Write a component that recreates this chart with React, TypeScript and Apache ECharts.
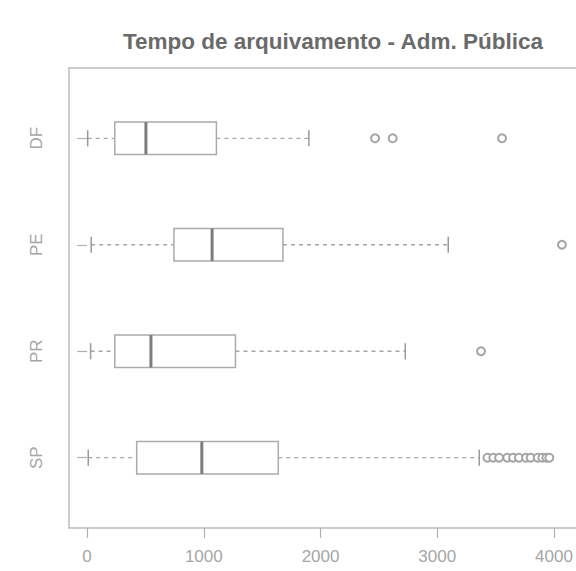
import React, { useEffect, useRef } from "react";
import * as echarts from "echarts";

// Filing time by state (public administration), box-and-whisker summary
const regions = ["SP", "PR", "PE", "DF"];
const regionPos = [1, 2, 3, 4];
const whiskerLow = [10, 30, 35, 5];
const lowerQuartile = [425, 237, 744, 237];
const medianValue = [983, 547, 1071, 504];
const upperQuartile = [1638, 1271, 1678, 1108];
const whiskerHigh = [3360, 2726, 3094, 1900];

const outliersSP = [3430, 3480, 3530, 3600, 3650, 3700, 3760, 3800, 3860, 3900, 3935, 3960];
const outliersPR = [3375];
const outliersPE = [4068];
const outliersDF = [2467, 2618, 3555];

const xTicks = [0, 1000, 2000, 3000, 4000];

const TITLE = "Tempo de arquivamento - Adm. Pública";
const FONT = "'Liberation Sans', Arial, sans-serif";

export default function App() {
  const ref = useRef<HTMLDivElement>(null);

  useEffect(() => {
    if (!ref.current) return;
    const chart = echarts.init(ref.current, undefined, { renderer: "svg" });

    const boxData = regions.map((_, i) => [
      regionPos[i],
      whiskerLow[i],
      lowerQuartile[i],
      medianValue[i],
      upperQuartile[i],
      whiskerHigh[i],
    ]);

    const outlierGroups = [outliersSP, outliersPR, outliersPE, outliersDF];
    const outlierData: number[][] = [];
    outlierGroups.forEach((vals, i) => {
      vals.forEach((v) => outlierData.push([v, regionPos[i]]));
    });

    const whiskerColor = "#a6a6a6";
    const boxColor = "#ababab";

    chart.setOption({
      animation: false,
      backgroundColor: "#ffffff",
      title: {
        text: TITLE,
        left: 328,
        top: 25,
        textAlign: "center",
        textStyle: {
          fontFamily: FONT,
          fontSize: 22.5,
          fontWeight: "bold",
          color: "#6a6a6a",
        },
      },
      grid: {
        left: 69,
        top: 68,
        bottom: 43,
        right: -6,
        show: true,
        borderColor: "#bcbcbc",
        borderWidth: 1.5,
        backgroundColor: "transparent",
        containLabel: false,
        outerBoundsMode: "none",
      },
      xAxis: {
        type: "value",
        min: -155,
        max: 4240,
        axisLine: { show: false },
        splitLine: { show: false },
        axisTick: {
          show: true,
          customValues: xTicks,
          length: 10,
          lineStyle: { color: "#b0b0b0", width: 1.2 },
        },
        axisLabel: {
          customValues: xTicks,
          margin: 20,
          fontFamily: FONT,
          fontSize: 17,
          color: "#a6a6a6",
          formatter: (v: number) => String(v),
        },
      },
      yAxis: {
        type: "value",
        min: 0.34,
        max: 4.66,
        axisLine: { show: false },
        splitLine: { show: false },
        axisTick: {
          show: true,
          customValues: regionPos,
          length: 10,
          lineStyle: { color: "#b0b0b0", width: 1.2 },
        },
        axisLabel: {
          customValues: regionPos,
          rotate: 90,
          margin: 24,
          fontFamily: FONT,
          fontSize: 17,
          color: "#a6a6a6",
          formatter: (v: number) => regions[regionPos.indexOf(Math.round(v))] ?? "",
        },
      },
      series: [
        {
          type: "custom",
          data: boxData,
          encode: { x: [1, 2, 3, 4, 5], y: 0 },
          renderItem: (_params: any, api: any) => {
            const y = api.value(0);
            const pLo = api.coord([api.value(1), y]);
            const pQ1 = api.coord([api.value(2), y]);
            const pMed = api.coord([api.value(3), y]);
            const pQ3 = api.coord([api.value(4), y]);
            const pHi = api.coord([api.value(5), y]);
            const cy = pMed[1];
            const h = api.size([0, 0.152])[1];
            const cap = h / 2;
            return {
              type: "group",
              children: [
                {
                  type: "line",
                  shape: { x1: pLo[0], y1: cy, x2: pQ1[0], y2: cy },
                  style: { stroke: whiskerColor, lineWidth: 1.3, lineDash: [4, 4] },
                },
                {
                  type: "line",
                  shape: { x1: pQ3[0], y1: cy, x2: pHi[0], y2: cy },
                  style: { stroke: whiskerColor, lineWidth: 1.3, lineDash: [4, 4] },
                },
                {
                  type: "line",
                  shape: { x1: pLo[0], y1: cy - cap, x2: pLo[0], y2: cy + cap },
                  style: { stroke: "#999999", lineWidth: 1.5 },
                },
                {
                  type: "line",
                  shape: { x1: pHi[0], y1: cy - cap, x2: pHi[0], y2: cy + cap },
                  style: { stroke: "#999999", lineWidth: 1.5 },
                },
                {
                  type: "rect",
                  shape: {
                    x: pQ1[0],
                    y: cy - h,
                    width: pQ3[0] - pQ1[0],
                    height: 2 * h,
                  },
                  style: { fill: "#ffffff", stroke: boxColor, lineWidth: 1.5 },
                },
                {
                  type: "line",
                  shape: { x1: pMed[0], y1: cy - h, x2: pMed[0], y2: cy + h },
                  style: { stroke: "#7c7c7c", lineWidth: 3 },
                },
              ],
            };
          },
        },
        {
          type: "scatter",
          data: outlierData,
          symbol: "emptyCircle",
          symbolSize: 8,
          itemStyle: { color: "#a4a4a4", borderColor: "#a4a4a4", borderWidth: 1, opacity: 1 },
          silent: true,
        },
      ],
    });

    return () => chart.dispose();
  }, []);

  return <div ref={ref} style={{ width: 576, height: 571, position: "absolute", left: 0, top: 0 }} />;
}
